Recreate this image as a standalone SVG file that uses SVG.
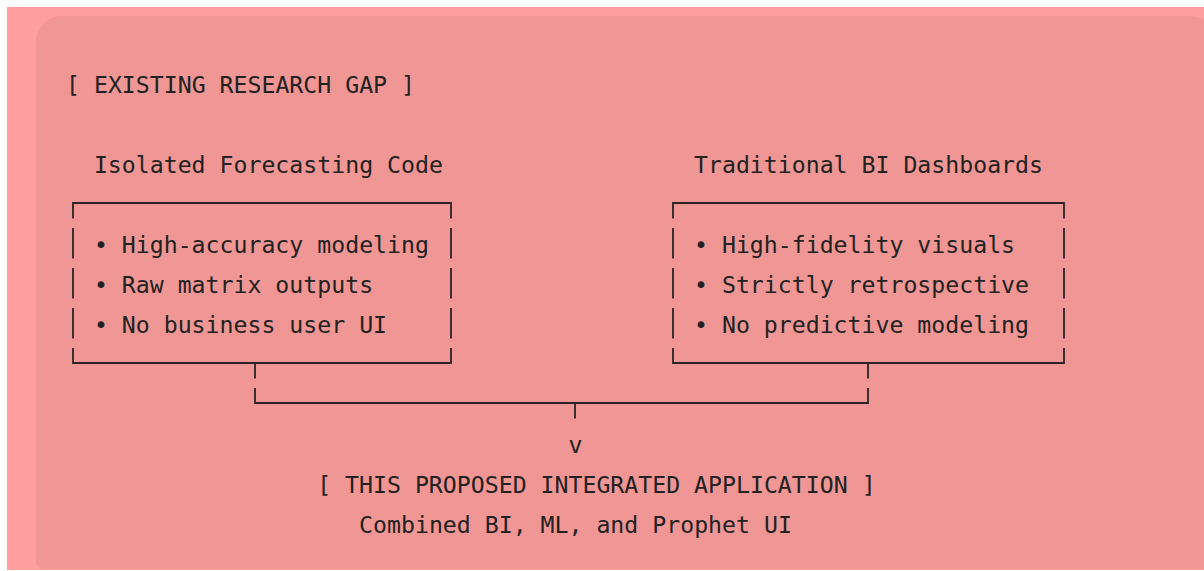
<svg xmlns="http://www.w3.org/2000/svg" width="1204" height="571" viewBox="0 0 1204 571">
  <style>
    .t { font-family: "DejaVu Sans Mono", "Liberation Mono", monospace; font-size: 23.2px; fill: #222222; white-space: pre; }
    .ln { fill: none; stroke: #2a2424; stroke-width: 1.8; stroke-linecap: butt; }
  </style>

  <!-- page background -->
  <rect x="0" y="0" width="1204" height="571" fill="#ffffff"/>
  <rect x="7" y="7" width="1197" height="563" fill="#ff9e9e"/>
  <!-- inner panel -->
  <path d="M36 42 A26 26 0 0 1 62 16 H1190 A24 24 0 0 1 1214 40 V569 H44 A8 8 0 0 1 36 561 Z" fill="#f09694"/>

  <g id="heading">
    <text class="t" x="66" y="92.5">[ EXISTING RESEARCH GAP ]</text>
  </g>

  <g id="forecasting-code">
    <text class="t" x="93.9" y="172.5">Isolated Forecasting Code</text>
    <path class="ln" d="M73 218.5 V203 H451 V218.5
                       M73 228 V258.5 M451 228 V258.5
                       M73 268 V298.5 M451 268 V298.5
                       M73 308 V338.5 M451 308 V338.5
                       M73 348 V363 H451 V348"/>
    <text class="t" x="93.9" y="252.5">• High-accuracy modeling</text>
    <text class="t" x="93.9" y="292.5">• Raw matrix outputs</text>
    <text class="t" x="93.9" y="332.5">• No business user UI</text>
  </g>

  <g id="bi-dashboards">
    <text class="t" x="694" y="172.5">Traditional BI Dashboards</text>
    <path class="ln" d="M673 218.5 V203 H1064 V218.5
                       M673 228 V258.5 M1064 228 V258.5
                       M673 268 V298.5 M1064 268 V298.5
                       M673 308 V338.5 M1064 308 V338.5
                       M673 348 V363 H1064 V348"/>
    <text class="t" x="694" y="252.5">• High-fidelity visuals</text>
    <text class="t" x="694" y="292.5">• Strictly retrospective</text>
    <text class="t" x="694" y="332.5">• No predictive modeling</text>
  </g>

  <g id="connectors">
    <path class="ln" d="M255 363 V378.5 M868 363 V378.5
                       M255 388 V403 H868 V388
                       M575 403 V418.5"/>
    <text class="t" x="568.4" y="452.5">v</text>
  </g>

  <g id="proposed-application">
    <text class="t" x="317.2" y="492.5">[ THIS PROPOSED INTEGRATED APPLICATION ]</text>
    <text class="t" x="359.1" y="532.5">Combined BI, ML, and Prophet UI</text>
  </g>
</svg>
